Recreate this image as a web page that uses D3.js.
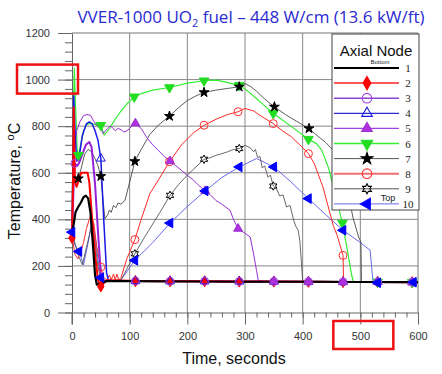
<!DOCTYPE html>
<html>
<head>
<meta charset="utf-8">
<script src="https://cdn.jsdelivr.net/npm/d3@7/dist/d3.min.js"></script>
<style>
  body{margin:0;background:#fff;}
  svg{display:block;font-family:"Liberation Sans",Arial,sans-serif;}
</style>
</head>
<body>
<div id="chart"></div>
<script>
// [time s, temperature C, marker?] for each axial node
const node1 = [[0,340],[3,380],[6,430],[10,450],[15,470],[20,495],[24,502],[28,490],[32,430],[36,300],[40,160],[43,120],[50,125],[60,135],[100,135],[200,133],[300,132],[400,132],[500,131],[600,130]];
const node2 = [[0,320,1],[2,600],[3,880],[4,700],[5,560],[8,540],[12,570],[16,600],[27,600],[30,560],[35,400],[40,250],[45,140],[50,112,1],[55,125],[60,138],[100,136],[110,135,1],[170,134,1],[230,134,1],[290,133,1],[350,133,1],[410,132,1],[470,131,1],[530,131,1],[590,130,1],[600,130]];
const node3 = [[0,330],[3,560],[5,640,1],[8,630],[12,640],[18,680],[24,720],[30,732],[34,710],[40,550],[45,350],[50,160],[54,132],[60,135],[110,135,1],[170,134,1],[230,134,1],[290,133,1],[350,133,1],[410,132,1],[470,131,1],[530,131,1],[590,130,1],[600,130]];
const node4 = [[0,350],[2,700],[3,930],[5,800],[8,650],[12,660],[18,760],[25,810],[30,818],[35,810],[40,780],[45,740],[50,661,1],[55,400],[60,170],[63,140],[70,137],[110,135,1],[170,134,1],[230,134,1],[290,133,1],[350,133,1],[410,132,1],[470,131,1],[530,131,1],[590,130,1],[600,130]];
const node5 = [[0,340],[3,600],[5,720],[8,780],[14,820],[20,845],[26,850],[32,847],[38,820],[44,800],[50,790],[54,768],[58,780],[62,790],[66,800],[70,795],[75,780],[80,790],[85,785],[90,775],[95,780],[100,790],[105,805],[110,812,1],[115,800],[120,790],[125,770],[130,750],[140,720],[150,695],[160,670],[170,650,1],[180,630],[190,610],[200,589],[210,570],[220,545],[231,522,1],[240,505],[250,480],[260,465],[274,439],[280,400],[288,360,1],[300,340],[309,324],[315,250],[320,180],[323,138],[330,135],[350,133,1],[410,132,1],[470,131,1],[530,131,1],[590,130,1],[600,130]];
const node6 = [[0,350],[2,800],[4,1049],[6,900],[9,700],[11,675,1],[15,720],[20,780],[25,805],[30,812],[40,808],[50,804,1],[56,761],[65,790],[75,830],[85,865],[95,895],[108,926,1],[120,940],[140,955],[169,966,1],[200,985],[229,995,1],[250,998],[265,990],[290,975,1],[300,960],[323,912],[349,855,1],[381,797],[410,744,1],[424,725],[433,697],[445,620],[455,520],[469,384,1],[478,260],[485,160],[488,132],[500,131],[530,131,1],[590,130,1],[600,130]];
const node7 = [[0,360],[3,700],[5,560],[8,560],[11,575,1],[16,620],[22,680],[28,700],[34,690],[40,660],[45,630],[50,585,1],[54,480],[57,403],[62,420],[65,440],[68,430],[72,460],[76,450],[80,470],[85,465],[92,482],[100,560],[109,649,1],[120,700],[135,765],[150,805],[169,843,1],[185,880],[200,910],[215,930],[229,945,1],[250,955],[270,962],[290,969,1],[300,983],[310,970],[320,950],[335,915],[351,883,1],[370,850],[390,820],[411,790,1],[420,770],[440,730],[455,690],[470,582],[480,500],[487,410],[497,324],[501,302],[502,130],[510,131],[600,130]];
const node8 = [[0,330],[5,250],[10,230],[15,260],[20,300],[25,360],[30,400],[33,417],[38,380],[43,280],[50,195,1],[55,150],[60,140],[65,160],[68,140],[72,165],[75,140],[78,165],[81,140],[85,150],[95,230],[109,313,1],[120,400],[135,510],[150,570],[169,647,1],[190,720],[210,770],[229,804,1],[250,830],[270,850],[288,862,1],[300,876],[315,865],[330,840],[349,811,1],[365,780],[380,755],[395,720],[410,682,1],[420,640],[435,540],[453,374],[460,330],[470,245,1],[471,130],[480,131],[600,130]];
const node9 = [[0,350],[5,300],[10,250],[18,205],[25,280],[30,330],[35,380],[40,300],[45,200],[50,140],[60,135],[85,140],[109,252,1],[125,320],[140,380],[155,440],[170,503,1],[185,550],[200,590],[215,625],[229,658,1],[240,665],[250,675],[260,682],[270,690],[280,700],[290,704,1],[300,718],[305,712],[310,705],[315,690],[318,700],[322,665],[326,670],[330,620],[334,630],[340,580],[344,590],[349,543,1],[355,530],[360,500],[366,505],[372,453],[378,460],[384,400],[388,370],[392,355],[395,310],[398,209],[400,135],[600,130]];
const node10 = [[0,345,1],[5,290],[12,262,1],[20,205],[28,300],[35,400],[40,330],[45,230],[50,150,1],[60,135],[85,140],[109,224,1],[140,300],[170,384,1],[200,455],[231,522,1],[260,580],[290,625,1],[320,661],[350,625,1],[380,560],[410,489,1],[440,420],[470,353,1],[499,302],[517,267],[522,130],[530,128,1],[560,129],[592,130,1],[600,130]];

const nodeNames = ["1","2","3","4","5","6","7","8","9","10"];
const xTicks = [0,100,200,300,400,500,600];
const yTicks = [0,200,400,600,800,1000,1200];

const W = 442, H = 374;
const svg = d3.select('#chart').append('svg').attr('width', W).attr('height', H);

const x = d3.scaleLinear().domain([0,600]).range([72,418]);
const y = d3.scaleLinear().domain([0,1200]).range([312.5,33]);

// six pointed open star for node 9
function hexagram(r){
    let p = d3.path();
    for(let k = 0; k < 12; k++){
        let a = -Math.PI/2 + k*Math.PI/6;
        let rr = k % 2 == 0 ? r : r*0.55;
        if(k == 0){p.moveTo(rr*Math.cos(a), rr*Math.sin(a));}
        else{p.lineTo(rr*Math.cos(a), rr*Math.sin(a));}
    }
    p.closePath();
    return p.toString();
}

const series = [
    {data: node1,  color: '#000000', width: 2.2, shape: null},
    {data: node2,  color: '#ff0000', width: 2,   shape: d3.symbol().type(d3.symbolDiamond).size(36)(), rot: 0, fill: '#ff0000', stroke: '#ff0000'},
    {data: node3,  color: '#9420d8', width: 2,   shape: d3.symbol().type(d3.symbolCircle).size(50)(), rot: 0, fill: 'none', stroke: '#a040e0'},
    {data: node4,  color: '#1a1ae6', width: 1.5, shape: d3.symbol().type(d3.symbolTriangle).size(34)(), rot: 0, fill: 'none', stroke: '#1a1ae6'},
    {data: node5,  color: '#9a30d0', width: 1,   shape: d3.symbol().type(d3.symbolTriangle).size(34)(), rot: 0, fill: '#b030e0', stroke: '#9a30d0'},
    {data: node6,  color: '#33ee33', width: 1.2, shape: d3.symbol().type(d3.symbolTriangle).size(40)(), rot: 180, fill: '#22dd22', stroke: '#22dd22'},
    {data: node7,  color: '#333333', width: 0.8, shape: d3.symbol().type(d3.symbolStar).size(30)(), rot: 0, fill: '#000000', stroke: '#000000'},
    {data: node8,  color: '#ff2a2a', width: 1,   shape: d3.symbol().type(d3.symbolCircle).size(50)(), rot: 0, fill: 'none', stroke: '#ff3030'},
    {data: node9,  color: '#444444', width: 0.8, shape: hexagram(4.2), rot: 0, fill: 'none', stroke: '#000000'},
    {data: node10, color: '#6a6aee', width: 1,   shape: d3.symbol().type(d3.symbolTriangle).size(40)(), rot: -90, fill: '#0000ff', stroke: '#0000ff'}
];

// grid
const grid = svg.append('g').attr('stroke', '#888').attr('stroke-width', 1);
grid.selectAll('.gx').data(xTicks.slice(1, -1)).enter().append('line')
    .attr('x1', (d) => x(d)).attr('x2', (d) => x(d)).attr('y1', y(1200)).attr('y2', y(0));
grid.selectAll('.gy').data(yTicks.slice(1, -1)).enter().append('line')
    .attr('x1', x(0)).attr('x2', x(600)).attr('y1', (d) => y(d)).attr('y2', (d) => y(d));
// frame top/right
svg.append('path').attr('d', `M${x(0)},${y(1200)}H${x(600)}V${y(0)}`)
   .attr('fill', 'none').attr('stroke', '#777').attr('stroke-width', 1);

// axes
const yMinor = d3.range(0, 1201, 40);
const xMinor = d3.range(0, 601, 20);
svg.append('g').attr('transform', `translate(${x(0)},0)`)
   .call(d3.axisLeft(y).tickValues(yMinor).tickSize(7).tickFormat(''))
   .call((g) => g.select('.domain').remove());
svg.append('g').attr('transform', `translate(0,${y(0)})`)
   .call(d3.axisBottom(x).tickValues(xMinor).tickSize(5).tickFormat(''))
   .call((g) => g.select('.domain').remove());
const yAxis = svg.append('g').attr('transform', `translate(${x(0)},0)`)
   .call(d3.axisLeft(y).tickValues(yTicks).tickSize(14).tickPadding(8).tickSizeOuter(0).tickFormat(d3.format('d')));
const xAxis = svg.append('g').attr('transform', `translate(0,${y(0)})`)
   .call(d3.axisBottom(x).tickValues(xTicks).tickSize(12).tickPadding(8).tickSizeOuter(0).tickFormat(d3.format('d')));
svg.selectAll('.tick line').attr('stroke', '#666');
svg.selectAll('.domain').attr('stroke', '#666');
[yAxis, xAxis].forEach((a) => a.selectAll('text')
   .attr('font-family', '"Liberation Sans",Arial,sans-serif').attr('font-size', 11).attr('fill', '#333'));
// left axis runs down to the x ticks
svg.append('line').attr('x1', x(0)).attr('x2', x(0)).attr('y1', y(0)).attr('y2', y(0) + 12).attr('stroke', '#666');

// lines
const line = d3.line().x((d) => x(d[0])).y((d) => y(d[1]));
const plot = svg.append('g');
// draw bottom nodes last so the thick early peaks sit on top
const order = [9,8,7,6,5,4,3,2,1,0];
order.forEach((i) => {
    let s = series[i];
    plot.append('path').datum(s.data).attr('d', line)
        .attr('fill', 'none').attr('stroke', s.color).attr('stroke-width', s.width)
        .attr('stroke-linejoin', 'round');
});
// purple circles end up on top of the flat tail, like the original
const markerOrder = [1,3,5,6,7,8,4,2,9];
markerOrder.forEach((i) => {
    let s = series[i];
    plot.selectAll(null).data(s.data.filter((d) => d[2])).enter().append('path')
        .attr('d', s.shape)
        .attr('transform', (d) => `translate(${x(d[0])},${y(d[1])}) rotate(${s.rot})`)
        .attr('fill', s.fill).attr('stroke', s.stroke).attr('stroke-width', 1);
});

// legend
const lg = svg.append('g');
lg.append('rect').attr('x', 332).attr('y', 34).attr('width', 87).attr('height', 176)
  .attr('fill', '#fff').attr('stroke', '#444').attr('stroke-width', 1);
lg.append('text').attr('x', 376).attr('y', 56).attr('text-anchor', 'middle')
  .attr('font-size', 15).attr('fill', '#111').text('Axial Node');
lg.append('text').attr('x', 380).attr('y', 64).attr('text-anchor', 'middle')
  .attr('font-size', 6).attr('fill', '#222').text('Bottom');
lg.append('text').attr('x', 388).attr('y', 201).attr('text-anchor', 'middle')
  .attr('font-size', 9).attr('fill', '#222').text('Top');
const legendColors = ['#000000','#ff2020','#8a44d0','#2a2ad0','#a040e0','#33ee33','#555555','#f07070','#555555','#6a6aee'];
const legendWidths = [2,1.5,1.5,1.2,1.2,1.5,1,2,1,1];
series.forEach((s, i) => {
    let ly = 68 + i*15.1;
    lg.append('line').attr('x1', 334).attr('x2', 399).attr('y1', ly).attr('y2', ly)
      .attr('stroke', legendColors[i]).attr('stroke-width', legendWidths[i]);
    if(s.shape){
        lg.append('path').attr('d', s.shape)
          .attr('transform', `translate(367,${ly}) rotate(${s.rot}) scale(1.2)`)
          .attr('fill', s.fill).attr('stroke', s.stroke).attr('stroke-width', 0.9);
    }
    lg.append('text').attr('x', 408).attr('y', ly + 4).attr('text-anchor', 'middle')
      .attr('font-family', '"Liberation Serif","Times New Roman",serif').attr('font-size', 11)
      .attr('fill', '#222').text(nodeNames[i]);
});

// titles
const title = svg.append('text').attr('x', 251).attr('y', 23).attr('text-anchor', 'middle')
   .attr('font-family', '"Open Sans","Noto Sans",sans-serif').attr('font-size', 17).attr('fill', '#2a2ad2');
title.append('tspan').text('VVER-1000 UO');
title.append('tspan').attr('font-size', 11).attr('dy', 4).text('2');
title.append('tspan').attr('dy', -4).text(' fuel \u2013  448 W/cm (13.6 kW/ft)');

svg.append('text').attr('x', 234).attr('y', 364).attr('text-anchor', 'middle')
   .attr('font-size', 16).attr('fill', '#111').text('Time, seconds');
const yl = svg.append('text').attr('transform', 'translate(20,181) rotate(-90)').attr('text-anchor', 'middle')
   .attr('font-size', 16).attr('fill', '#111');
yl.append('tspan').text('Temperature, ');
yl.append('tspan').attr('font-size', 11).attr('dy', -6).text('o');
yl.append('tspan').attr('dy', 6).text('C');

// red highlight boxes
svg.append('rect').attr('x', 17).attr('y', y(1000) - 15).attr('width', 61).attr('height', 29)
   .attr('fill', 'none').attr('stroke', '#ee1111').attr('stroke-width', 2.5);
svg.append('rect').attr('x', x(500) - 27).attr('y', 321).attr('width', 60).attr('height', 28)
   .attr('fill', 'none').attr('stroke', '#ee1111').attr('stroke-width', 2.5);
</script>
</body>
</html>
